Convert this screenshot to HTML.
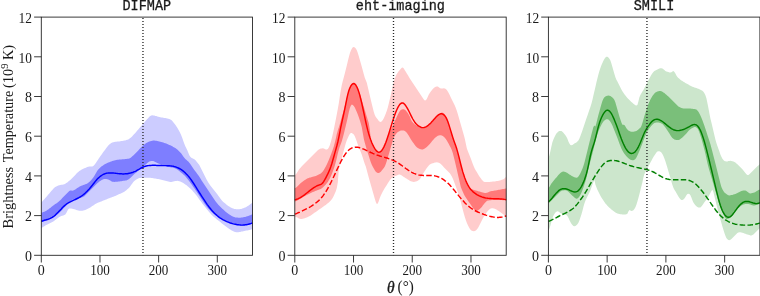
<!DOCTYPE html>
<html><head><meta charset="utf-8"><title>plot</title>
<style>
html,body{margin:0;padding:0;background:#fff;}
body{width:760px;height:296px;overflow:hidden;font-family:"Liberation Serif",serif;}
svg{display:block}
.tk{font-family:"Liberation Serif",serif;font-size:15.4px;fill:#1a1a1a}
.tt{font-family:"Liberation Mono",monospace;font-size:14.2px;fill:#1a1a1a}
</style></head><body>
<svg width="760" height="296" viewBox="0 0 760 296" style="opacity:0.999;will-change:transform">
<rect width="760" height="296" fill="#fff"/>
<g>
<path d="M41.3,202.6 L42.3,201.5 L43.3,200.3 L44.3,199.2 L45.3,198.0 L46.3,196.9 L47.3,195.7 L48.3,194.6 L49.3,193.4 L50.3,192.3 L51.3,191.1 L52.3,190.0 L53.3,188.8 L54.3,187.8 L55.3,187.0 L56.3,186.5 L57.3,186.0 L58.3,185.6 L59.3,185.3 L60.3,185.0 L61.3,184.8 L62.3,184.7 L63.3,184.6 L64.3,184.3 L65.3,183.8 L66.3,183.1 L67.3,182.4 L68.3,181.6 L69.3,180.7 L70.3,179.9 L71.3,179.0 L72.3,178.0 L73.3,177.0 L74.3,175.9 L75.3,174.9 L76.3,173.8 L77.3,172.8 L78.3,171.9 L79.3,171.1 L80.3,170.4 L81.3,169.7 L82.3,169.2 L83.3,168.7 L84.3,168.3 L85.3,167.9 L86.3,167.5 L87.3,167.1 L88.3,166.7 L89.3,166.6 L90.3,166.6 L91.3,166.6 L92.3,166.5 L93.3,166.0 L94.3,165.0 L95.3,163.8 L96.3,162.3 L97.3,160.7 L98.3,159.2 L99.3,157.7 L100.3,156.3 L101.3,154.9 L102.3,153.5 L103.3,152.1 L104.3,150.8 L105.3,149.4 L106.3,148.1 L107.3,146.8 L108.3,145.6 L109.3,144.5 L110.3,143.7 L111.3,143.0 L112.3,142.6 L113.3,142.2 L114.3,142.0 L115.3,141.8 L116.3,141.7 L117.3,141.5 L118.3,141.5 L119.3,141.4 L120.3,141.3 L121.3,141.1 L122.3,141.0 L123.3,140.8 L124.3,140.6 L125.3,140.4 L126.3,140.1 L127.3,139.8 L128.3,139.4 L129.3,138.8 L130.3,138.0 L131.3,137.2 L132.3,136.2 L133.3,135.1 L134.3,134.0 L135.3,132.9 L136.3,131.7 L137.3,130.5 L138.3,129.4 L139.3,128.2 L140.3,127.0 L141.3,125.9 L142.3,124.7 L143.3,123.6 L144.3,122.4 L145.3,121.3 L146.3,120.1 L147.3,119.0 L148.3,117.9 L149.3,116.8 L150.3,116.0 L151.3,115.5 L152.3,115.3 L153.3,115.4 L154.3,115.6 L155.3,115.9 L156.3,116.1 L157.3,116.4 L158.3,116.7 L159.3,116.9 L160.3,117.2 L161.3,117.4 L162.3,117.6 L163.3,117.8 L164.3,117.9 L165.3,118.1 L166.3,118.3 L167.3,118.5 L168.3,118.7 L169.3,118.9 L170.3,119.4 L171.3,120.1 L172.3,121.1 L173.3,122.2 L174.3,123.5 L175.3,124.8 L176.3,126.2 L177.3,127.7 L178.3,129.4 L179.3,131.2 L180.3,133.3 L181.3,135.5 L182.3,138.1 L183.3,141.0 L184.3,143.8 L185.3,146.3 L186.3,148.3 L187.3,150.3 L188.3,152.7 L189.3,155.2 L190.3,156.8 L191.3,157.8 L192.3,158.3 L193.3,158.7 L194.3,159.2 L195.3,160.1 L196.3,161.2 L197.3,162.4 L198.3,163.7 L199.3,165.1 L200.3,166.9 L201.3,168.9 L202.3,171.1 L203.3,173.1 L204.3,175.1 L205.3,177.0 L206.3,178.9 L207.3,180.7 L208.3,182.4 L209.3,184.0 L210.3,185.4 L211.3,186.7 L212.3,188.0 L213.3,189.2 L214.3,190.4 L215.3,191.7 L216.3,193.0 L217.3,194.3 L218.3,195.7 L219.3,197.1 L220.3,198.4 L221.3,199.7 L222.3,200.9 L223.3,201.9 L224.3,202.8 L225.3,203.6 L226.3,204.4 L227.3,205.2 L228.3,205.9 L229.3,206.5 L230.3,207.2 L231.3,207.7 L232.3,208.2 L233.3,208.6 L234.3,208.9 L235.3,209.1 L236.3,209.3 L237.3,209.3 L238.3,209.3 L239.3,209.2 L240.3,209.1 L241.3,208.9 L242.3,208.6 L243.3,208.3 L244.3,207.8 L245.3,207.4 L246.3,206.9 L247.3,206.3 L248.3,205.7 L249.3,205.0 L250.3,204.3 L251.3,203.6 L252.3,202.8 L252.5,202.6 L252.5,229.3 L252.3,229.3 L251.3,229.6 L250.3,229.8 L249.3,230.0 L248.3,230.2 L247.3,230.4 L246.3,230.6 L245.3,230.8 L244.3,231.0 L243.3,231.2 L242.3,231.4 L241.3,231.6 L240.3,231.9 L239.3,232.1 L238.3,232.3 L237.3,232.3 L236.3,232.3 L235.3,232.1 L234.3,231.7 L233.3,231.3 L232.3,230.8 L231.3,230.2 L230.3,229.6 L229.3,228.9 L228.3,228.2 L227.3,227.5 L226.3,226.7 L225.3,226.0 L224.3,225.2 L223.3,224.5 L222.3,223.7 L221.3,222.9 L220.3,222.1 L219.3,221.3 L218.3,220.5 L217.3,219.8 L216.3,218.9 L215.3,218.1 L214.3,217.2 L213.3,216.4 L212.3,215.4 L211.3,214.4 L210.3,213.3 L209.3,212.2 L208.3,211.0 L207.3,209.8 L206.3,208.5 L205.3,207.3 L204.3,206.0 L203.3,204.7 L202.3,203.4 L201.3,202.1 L200.3,200.7 L199.3,199.4 L198.3,198.0 L197.3,196.6 L196.3,195.3 L195.3,194.0 L194.3,192.8 L193.3,191.7 L192.3,190.6 L191.3,189.6 L190.3,188.6 L189.3,187.7 L188.3,186.8 L187.3,186.0 L186.3,185.1 L185.3,184.4 L184.3,183.7 L183.3,183.0 L182.3,182.5 L181.3,182.0 L180.3,181.6 L179.3,181.2 L178.3,181.0 L177.3,180.8 L176.3,180.9 L175.3,181.0 L174.3,181.2 L173.3,181.5 L172.3,181.7 L171.3,181.9 L170.3,181.9 L169.3,181.8 L168.3,181.6 L167.3,181.3 L166.3,181.1 L165.3,180.8 L164.3,180.5 L163.3,180.2 L162.3,179.9 L161.3,179.7 L160.3,179.5 L159.3,179.3 L158.3,179.1 L157.3,178.9 L156.3,178.7 L155.3,178.5 L154.3,178.4 L153.3,178.2 L152.3,178.1 L151.3,177.9 L150.3,177.8 L149.3,177.7 L148.3,177.7 L147.3,177.7 L146.3,177.7 L145.3,177.7 L144.3,177.7 L143.3,177.8 L142.3,177.8 L141.3,177.9 L140.3,178.0 L139.3,178.1 L138.3,178.4 L137.3,178.9 L136.3,179.5 L135.3,180.2 L134.3,181.0 L133.3,182.1 L132.3,183.4 L131.3,184.8 L130.3,186.2 L129.3,187.5 L128.3,188.5 L127.3,189.3 L126.3,190.2 L125.3,191.0 L124.3,191.7 L123.3,192.2 L122.3,192.7 L121.3,193.2 L120.3,193.7 L119.3,194.1 L118.3,194.6 L117.3,195.0 L116.3,195.4 L115.3,195.9 L114.3,196.3 L113.3,196.7 L112.3,197.0 L111.3,197.4 L110.3,197.8 L109.3,198.2 L108.3,198.6 L107.3,199.0 L106.3,199.4 L105.3,199.8 L104.3,200.2 L103.3,200.6 L102.3,201.0 L101.3,201.4 L100.3,201.8 L99.3,202.2 L98.3,202.6 L97.3,203.0 L96.3,203.4 L95.3,204.0 L94.3,204.7 L93.3,205.4 L92.3,206.1 L91.3,206.8 L90.3,207.4 L89.3,208.0 L88.3,208.5 L87.3,209.0 L86.3,209.4 L85.3,209.9 L84.3,210.2 L83.3,210.5 L82.3,210.7 L81.3,210.8 L80.3,210.8 L79.3,210.7 L78.3,210.5 L77.3,210.2 L76.3,209.9 L75.3,209.5 L74.3,209.2 L73.3,208.9 L72.3,208.7 L71.3,208.5 L70.3,208.4 L69.3,208.4 L68.3,209.2 L67.3,210.9 L66.3,212.9 L65.3,214.5 L64.3,215.1 L63.3,215.5 L62.3,215.8 L61.3,216.1 L60.3,216.5 L59.3,217.0 L58.3,217.7 L57.3,218.5 L56.3,219.3 L55.3,220.1 L54.3,220.8 L53.3,221.5 L52.3,222.0 L51.3,222.5 L50.3,222.9 L49.3,223.4 L48.3,223.9 L47.3,224.5 L46.3,225.0 L45.3,225.6 L44.3,226.2 L43.3,226.8 L42.3,227.5 L41.3,228.1Z" fill="#ccccff"/>
<path d="M41.3,212.8 L42.3,212.5 L43.3,212.1 L44.3,211.8 L45.3,211.3 L46.3,210.8 L47.3,210.1 L48.3,209.4 L49.3,208.6 L50.3,207.9 L51.3,207.1 L52.3,206.3 L53.3,205.6 L54.3,204.8 L55.3,204.1 L56.3,203.4 L57.3,202.7 L58.3,202.0 L59.3,201.1 L60.3,200.2 L61.3,199.2 L62.3,198.1 L63.3,197.1 L64.3,196.0 L65.3,195.0 L66.3,194.0 L67.3,193.0 L68.3,192.0 L69.3,191.0 L70.3,190.5 L71.3,190.5 L72.3,190.7 L73.3,190.6 L74.3,190.1 L75.3,189.4 L76.3,188.7 L77.3,188.0 L78.3,187.4 L79.3,186.8 L80.3,186.2 L81.3,185.8 L82.3,185.4 L83.3,185.0 L84.3,184.7 L85.3,184.3 L86.3,183.9 L87.3,183.4 L88.3,182.8 L89.3,182.0 L90.3,181.0 L91.3,179.9 L92.3,178.7 L93.3,177.4 L94.3,176.0 L95.3,174.3 L96.3,172.4 L97.3,170.7 L98.3,169.4 L99.3,168.4 L100.3,167.5 L101.3,166.6 L102.3,165.9 L103.3,165.2 L104.3,164.6 L105.3,164.1 L106.3,163.6 L107.3,163.1 L108.3,162.6 L109.3,162.2 L110.3,161.8 L111.3,161.4 L112.3,161.1 L113.3,160.8 L114.3,160.5 L115.3,160.2 L116.3,160.0 L117.3,159.8 L118.3,159.7 L119.3,159.6 L120.3,159.5 L121.3,159.4 L122.3,159.3 L123.3,159.3 L124.3,159.2 L125.3,159.1 L126.3,159.0 L127.3,158.8 L128.3,158.7 L129.3,158.4 L130.3,157.9 L131.3,157.2 L132.3,156.3 L133.3,155.4 L134.3,154.4 L135.3,153.4 L136.3,152.4 L137.3,151.4 L138.3,150.4 L139.3,149.3 L140.3,148.3 L141.3,147.2 L142.3,146.2 L143.3,145.3 L144.3,144.5 L145.3,143.8 L146.3,143.1 L147.3,142.5 L148.3,142.0 L149.3,141.6 L150.3,141.2 L151.3,140.9 L152.3,140.7 L153.3,140.6 L154.3,140.6 L155.3,140.7 L156.3,140.8 L157.3,141.0 L158.3,141.2 L159.3,141.4 L160.3,141.7 L161.3,141.9 L162.3,142.2 L163.3,142.6 L164.3,142.9 L165.3,143.3 L166.3,143.6 L167.3,144.0 L168.3,144.4 L169.3,144.9 L170.3,145.3 L171.3,145.8 L172.3,146.3 L173.3,146.9 L174.3,147.5 L175.3,148.1 L176.3,148.8 L177.3,149.6 L178.3,150.4 L179.3,151.4 L180.3,152.4 L181.3,153.6 L182.3,154.9 L183.3,156.4 L184.3,157.8 L185.3,158.9 L186.3,159.8 L187.3,160.7 L188.3,161.6 L189.3,162.8 L190.3,164.1 L191.3,165.6 L192.3,167.0 L193.3,168.5 L194.3,170.0 L195.3,171.3 L196.3,172.6 L197.3,173.9 L198.3,175.3 L199.3,176.8 L200.3,178.3 L201.3,179.9 L202.3,181.4 L203.3,182.9 L204.3,184.4 L205.3,185.9 L206.3,187.4 L207.3,188.9 L208.3,190.4 L209.3,191.9 L210.3,193.4 L211.3,194.9 L212.3,196.4 L213.3,197.9 L214.3,199.4 L215.3,200.9 L216.3,202.3 L217.3,203.6 L218.3,204.8 L219.3,205.8 L220.3,206.8 L221.3,207.8 L222.3,208.7 L223.3,209.6 L224.3,210.5 L225.3,211.4 L226.3,212.2 L227.3,213.0 L228.3,213.7 L229.3,214.4 L230.3,215.1 L231.3,215.7 L232.3,216.3 L233.3,216.7 L234.3,217.1 L235.3,217.4 L236.3,217.5 L237.3,217.6 L238.3,217.7 L239.3,217.7 L240.3,217.7 L241.3,217.6 L242.3,217.5 L243.3,217.3 L244.3,217.1 L245.3,216.9 L246.3,216.6 L247.3,216.3 L248.3,215.9 L249.3,215.6 L250.3,215.2 L251.3,214.8 L252.3,214.3 L252.5,214.2 L252.5,223.5 L252.3,223.6 L251.3,223.9 L250.3,224.1 L249.3,224.4 L248.3,224.6 L247.3,224.8 L246.3,224.9 L245.3,225.1 L244.3,225.2 L243.3,225.3 L242.3,225.4 L241.3,225.4 L240.3,225.3 L239.3,225.3 L238.3,225.2 L237.3,225.0 L236.3,224.8 L235.3,224.6 L234.3,224.4 L233.3,224.1 L232.3,223.8 L231.3,223.4 L230.3,223.1 L229.3,222.6 L228.3,222.2 L227.3,221.7 L226.3,221.3 L225.3,220.8 L224.3,220.2 L223.3,219.7 L222.3,219.2 L221.3,218.6 L220.3,218.0 L219.3,217.5 L218.3,216.9 L217.3,216.2 L216.3,215.6 L215.3,214.9 L214.3,214.2 L213.3,213.4 L212.3,212.5 L211.3,211.6 L210.3,210.6 L209.3,209.6 L208.3,208.4 L207.3,207.2 L206.3,205.9 L205.3,204.6 L204.3,203.2 L203.3,201.7 L202.3,200.3 L201.3,198.8 L200.3,197.3 L199.3,195.7 L198.3,194.2 L197.3,192.7 L196.3,191.2 L195.3,189.7 L194.3,188.3 L193.3,186.9 L192.3,185.5 L191.3,184.1 L190.3,182.7 L189.3,181.3 L188.3,180.0 L187.3,178.7 L186.3,177.5 L185.3,176.3 L184.3,175.3 L183.3,174.4 L182.3,173.5 L181.3,172.7 L180.3,171.9 L179.3,171.1 L178.3,170.3 L177.3,169.6 L176.3,168.9 L175.3,168.4 L174.3,168.1 L173.3,167.8 L172.3,167.6 L171.3,167.4 L170.3,167.3 L169.3,167.1 L168.3,166.9 L167.3,166.7 L166.3,166.4 L165.3,166.1 L164.3,165.8 L163.3,165.5 L162.3,165.1 L161.3,164.7 L160.3,164.3 L159.3,163.8 L158.3,163.4 L157.3,162.9 L156.3,162.4 L155.3,161.9 L154.3,161.5 L153.3,161.1 L152.3,160.9 L151.3,160.9 L150.3,161.2 L149.3,161.6 L148.3,162.3 L147.3,163.0 L146.3,163.9 L145.3,164.8 L144.3,165.7 L143.3,166.5 L142.3,167.4 L141.3,168.2 L140.3,169.1 L139.3,169.9 L138.3,170.7 L137.3,171.6 L136.3,172.4 L135.3,173.2 L134.3,174.1 L133.3,175.0 L132.3,175.9 L131.3,176.9 L130.3,177.9 L129.3,178.8 L128.3,179.5 L127.3,180.0 L126.3,180.4 L125.3,180.6 L124.3,180.7 L123.3,180.8 L122.3,181.0 L121.3,181.2 L120.3,181.3 L119.3,181.5 L118.3,181.6 L117.3,181.7 L116.3,181.8 L115.3,181.8 L114.3,181.9 L113.3,181.8 L112.3,181.7 L111.3,181.3 L110.3,180.6 L109.3,179.9 L108.3,179.5 L107.3,179.2 L106.3,179.0 L105.3,178.9 L104.3,179.0 L103.3,179.2 L102.3,179.7 L101.3,180.2 L100.3,180.9 L99.3,181.6 L98.3,182.4 L97.3,183.3 L96.3,184.3 L95.3,185.3 L94.3,186.3 L93.3,187.3 L92.3,188.3 L91.3,189.3 L90.3,190.3 L89.3,191.3 L88.3,192.3 L87.3,193.3 L86.3,194.3 L85.3,195.3 L84.3,196.2 L83.3,196.8 L82.3,197.3 L81.3,197.6 L80.3,198.0 L79.3,198.3 L78.3,198.7 L77.3,198.9 L76.3,199.0 L75.3,199.2 L74.3,199.3 L73.3,199.6 L72.3,200.0 L71.3,200.7 L70.3,201.6 L69.3,202.5 L68.3,203.5 L67.3,204.6 L66.3,205.6 L65.3,206.6 L64.3,207.6 L63.3,208.6 L62.3,209.7 L61.3,210.7 L60.3,211.7 L59.3,212.7 L58.3,213.7 L57.3,214.5 L56.3,215.3 L55.3,215.9 L54.3,216.6 L53.3,217.2 L52.3,217.7 L51.3,218.3 L50.3,218.8 L49.3,219.3 L48.3,219.7 L47.3,220.1 L46.3,220.5 L45.3,220.9 L44.3,221.3 L43.3,221.7 L42.3,222.0 L41.3,222.3Z" fill="#7e7eff"/>
<path d="M41.3,221.3 L42.3,221.0 L43.3,220.6 L44.3,220.3 L45.3,220.0 L46.3,219.8 L47.3,219.5 L48.3,219.2 L49.3,218.8 L50.3,218.4 L51.3,217.9 L52.3,217.4 L53.3,216.7 L54.3,216.0 L55.3,215.1 L56.3,214.1 L57.3,213.1 L58.3,212.1 L59.3,211.0 L60.3,209.9 L61.3,208.9 L62.3,207.8 L63.3,206.8 L64.3,205.9 L65.3,205.0 L66.3,204.2 L67.3,203.5 L68.3,202.9 L69.3,202.3 L70.3,201.8 L71.3,201.3 L72.3,200.8 L73.3,200.4 L74.3,199.9 L75.3,199.5 L76.3,199.0 L77.3,198.5 L78.3,198.0 L79.3,197.4 L80.3,196.8 L81.3,196.2 L82.3,195.5 L83.3,194.7 L84.3,193.9 L85.3,193.0 L86.3,192.0 L87.3,191.1 L88.3,190.0 L89.3,188.9 L90.3,187.7 L91.3,186.5 L92.3,185.3 L93.3,184.0 L94.3,182.7 L95.3,181.4 L96.3,180.2 L97.3,179.1 L98.3,178.1 L99.3,177.2 L100.3,176.3 L101.3,175.6 L102.3,175.0 L103.3,174.4 L104.3,174.0 L105.3,173.6 L106.3,173.3 L107.3,173.1 L108.3,173.0 L109.3,172.9 L110.3,172.9 L111.3,172.9 L112.3,173.0 L113.3,173.0 L114.3,173.1 L115.3,173.2 L116.3,173.4 L117.3,173.5 L118.3,173.6 L119.3,173.7 L120.3,173.7 L121.3,173.8 L122.3,173.9 L123.3,173.9 L124.3,173.9 L125.3,173.8 L126.3,173.8 L127.3,173.7 L128.3,173.5 L129.3,173.3 L130.3,173.1 L131.3,172.8 L132.3,172.5 L133.3,172.2 L134.3,171.7 L135.3,171.3 L136.3,170.8 L137.3,170.2 L138.3,169.6 L139.3,169.1 L140.3,168.5 L141.3,168.0 L142.3,167.5 L143.3,167.0 L144.3,166.6 L145.3,166.3 L146.3,166.0 L147.3,165.8 L148.3,165.6 L149.3,165.5 L150.3,165.4 L151.3,165.4 L152.3,165.3 L153.3,165.3 L154.3,165.3 L155.3,165.3 L156.3,165.4 L157.3,165.4 L158.3,165.4 L159.3,165.5 L160.3,165.5 L161.3,165.5 L162.3,165.6 L163.3,165.6 L164.3,165.6 L165.3,165.6 L166.3,165.6 L167.3,165.7 L168.3,165.7 L169.3,165.8 L170.3,165.9 L171.3,166.0 L172.3,166.1 L173.3,166.3 L174.3,166.6 L175.3,166.8 L176.3,167.2 L177.3,167.6 L178.3,168.0 L179.3,168.5 L180.3,169.0 L181.3,169.7 L182.3,170.4 L183.3,171.1 L184.3,172.0 L185.3,172.9 L186.3,173.9 L187.3,174.9 L188.3,176.1 L189.3,177.3 L190.3,178.6 L191.3,180.0 L192.3,181.5 L193.3,183.0 L194.3,184.5 L195.3,186.1 L196.3,187.7 L197.3,189.3 L198.3,190.9 L199.3,192.5 L200.3,194.0 L201.3,195.6 L202.3,197.2 L203.3,198.7 L204.3,200.2 L205.3,201.7 L206.3,203.2 L207.3,204.6 L208.3,205.9 L209.3,207.3 L210.3,208.5 L211.3,209.8 L212.3,210.9 L213.3,212.0 L214.3,213.1 L215.3,214.0 L216.3,214.9 L217.3,215.8 L218.3,216.6 L219.3,217.4 L220.3,218.1 L221.3,218.7 L222.3,219.3 L223.3,219.9 L224.3,220.4 L225.3,220.9 L226.3,221.4 L227.3,221.8 L228.3,222.2 L229.3,222.6 L230.3,223.0 L231.3,223.3 L232.3,223.6 L233.3,223.9 L234.3,224.1 L235.3,224.3 L236.3,224.5 L237.3,224.7 L238.3,224.8 L239.3,224.9 L240.3,225.0 L241.3,225.1 L242.3,225.1 L243.3,225.0 L244.3,225.0 L245.3,224.8 L246.3,224.7 L247.3,224.5 L248.3,224.3 L249.3,224.0 L250.3,223.7 L251.3,223.4 L252.3,223.0 L252.5,222.9" fill="none" stroke="#0000ff" stroke-width="1.45" stroke-linejoin="round"/>
<path d="M142.97,17.95 V255.3" stroke="#262626" stroke-width="1.35" stroke-dasharray="1.1 1.9" fill="none"/>
<rect x="41.3" y="17.1" width="211.2" height="238.2" fill="none" stroke="#262626" stroke-width="0.9"/>
<path d="M41.30,255.3 v7.2 M99.97,255.3 v7.2 M158.63,255.3 v7.2 M217.30,255.3 v7.2 M41.3,255.30 h-7.2 M41.3,215.60 h-7.2 M41.3,175.90 h-7.2 M41.3,136.20 h-7.2 M41.3,96.50 h-7.2 M41.3,56.80 h-7.2 M41.3,17.10 h-7.2" stroke="#262626" stroke-width="0.9" fill="none"/>
<text class="tk" x="41.3" y="275.1" text-anchor="middle" textLength="7.0" lengthAdjust="spacingAndGlyphs">0</text>
<text class="tk" x="100.0" y="275.1" text-anchor="middle" textLength="19.6" lengthAdjust="spacingAndGlyphs">100</text>
<text class="tk" x="158.6" y="275.1" text-anchor="middle" textLength="19.6" lengthAdjust="spacingAndGlyphs">200</text>
<text class="tk" x="217.3" y="275.1" text-anchor="middle" textLength="19.6" lengthAdjust="spacingAndGlyphs">300</text>
<text class="tk" x="32.0" y="261.1" text-anchor="end" textLength="7.0" lengthAdjust="spacingAndGlyphs">0</text>
<text class="tk" x="32.0" y="221.4" text-anchor="end" textLength="7.0" lengthAdjust="spacingAndGlyphs">2</text>
<text class="tk" x="32.0" y="181.7" text-anchor="end" textLength="7.0" lengthAdjust="spacingAndGlyphs">4</text>
<text class="tk" x="32.0" y="142.0" text-anchor="end" textLength="7.0" lengthAdjust="spacingAndGlyphs">6</text>
<text class="tk" x="32.0" y="102.3" text-anchor="end" textLength="7.0" lengthAdjust="spacingAndGlyphs">8</text>
<text class="tk" x="32.0" y="62.6" text-anchor="end" textLength="13.4" lengthAdjust="spacingAndGlyphs">10</text>
<text class="tk" x="32.0" y="22.9" text-anchor="end" textLength="13.4" lengthAdjust="spacingAndGlyphs">12</text>
<text class="tt" x="146.8" y="10.15" stroke="#1a1a1a" stroke-width="0.3" text-anchor="middle" textLength="48.6" lengthAdjust="spacingAndGlyphs">DIFMAP</text>
</g>
<g>
<path d="M294.8,175.2 L295.8,174.5 L296.8,173.0 L297.8,171.4 L298.8,169.8 L299.8,168.5 L300.8,167.4 L301.8,166.3 L302.8,165.3 L303.8,164.2 L304.8,163.2 L305.8,162.2 L306.8,161.2 L307.8,160.2 L308.8,159.2 L309.8,158.2 L310.8,157.2 L311.8,156.2 L312.8,155.2 L313.8,154.2 L314.8,153.2 L315.8,152.2 L316.8,151.2 L317.8,150.2 L318.8,149.4 L319.8,148.9 L320.8,148.6 L321.8,148.4 L322.8,148.3 L323.8,148.5 L324.8,149.1 L325.8,149.6 L326.8,149.6 L327.8,149.0 L328.8,147.6 L329.8,145.3 L330.8,142.1 L331.8,138.3 L332.8,133.9 L333.8,129.4 L334.8,124.5 L335.8,119.5 L336.8,114.3 L337.8,109.1 L338.8,103.3 L339.8,96.6 L340.8,90.2 L341.8,85.0 L342.8,81.0 L343.8,77.2 L344.8,73.4 L345.8,69.4 L346.8,65.4 L347.8,61.3 L348.8,57.3 L349.8,53.5 L350.8,50.7 L351.8,48.7 L352.8,47.3 L353.8,47.0 L354.8,47.6 L355.8,48.6 L356.8,50.3 L357.8,53.0 L358.8,56.3 L359.8,59.7 L360.8,63.2 L361.8,66.8 L362.8,70.5 L363.8,74.2 L364.8,77.8 L365.8,80.2 L366.8,82.7 L367.8,86.9 L368.8,91.2 L369.8,95.4 L370.8,99.7 L371.8,103.9 L372.8,108.0 L373.8,112.0 L374.8,114.9 L375.8,116.9 L376.8,118.3 L377.8,119.6 L378.8,120.9 L379.8,121.8 L380.8,122.0 L381.8,121.3 L382.8,120.0 L383.8,118.2 L384.8,116.0 L385.8,113.6 L386.8,110.8 L387.8,107.4 L388.8,103.5 L389.8,99.2 L390.8,94.9 L391.8,90.4 L392.8,85.7 L393.8,81.4 L394.8,78.2 L395.8,75.9 L396.8,74.0 L397.8,72.4 L398.8,71.0 L399.8,69.9 L400.8,68.8 L401.8,67.8 L402.8,67.6 L403.8,68.6 L404.8,70.2 L405.8,71.8 L406.8,73.4 L407.8,75.1 L408.8,76.8 L409.8,78.4 L410.8,80.1 L411.8,81.6 L412.8,83.1 L413.8,84.6 L414.8,86.1 L415.8,87.6 L416.8,89.1 L417.8,90.6 L418.8,92.1 L419.8,93.6 L420.8,95.1 L421.8,96.6 L422.8,98.1 L423.8,99.5 L424.8,100.4 L425.8,100.3 L426.8,99.0 L427.8,96.8 L428.8,94.6 L429.8,93.1 L430.8,91.6 L431.8,90.3 L432.8,89.0 L433.8,88.0 L434.8,87.2 L435.8,86.7 L436.8,86.5 L437.8,86.6 L438.8,87.2 L439.8,88.1 L440.8,88.6 L441.8,88.6 L442.8,88.4 L443.8,88.3 L444.8,88.5 L445.8,89.0 L446.8,89.9 L447.8,91.4 L448.8,93.3 L449.8,95.3 L450.8,97.4 L451.8,99.5 L452.8,101.5 L453.8,103.5 L454.8,105.6 L455.8,107.9 L456.8,110.7 L457.8,113.9 L458.8,117.4 L459.8,121.0 L460.8,124.5 L461.8,128.0 L462.8,131.5 L463.8,135.1 L464.8,138.8 L465.8,143.6 L466.8,148.2 L467.8,151.1 L468.8,153.6 L469.8,156.0 L470.8,158.5 L471.8,161.2 L472.8,163.9 L473.8,166.5 L474.8,168.7 L475.8,170.5 L476.8,172.1 L477.8,173.8 L478.8,175.4 L479.8,176.9 L480.8,178.3 L481.8,179.7 L482.8,180.8 L483.8,181.7 L484.8,182.0 L485.8,182.1 L486.8,182.1 L487.8,182.1 L488.8,182.0 L489.8,181.9 L490.8,181.8 L491.8,181.7 L492.8,181.6 L493.8,181.5 L494.8,181.4 L495.8,181.2 L496.8,181.1 L497.8,180.9 L498.8,180.7 L499.8,180.5 L500.8,180.2 L501.8,179.8 L502.8,179.4 L503.8,179.0 L504.8,178.2 L505.8,177.0 L506.2,176.5 L506.2,216.9 L505.8,216.5 L504.8,215.7 L503.8,214.8 L502.8,214.0 L501.8,213.3 L500.8,212.6 L499.8,211.8 L498.8,211.1 L497.8,210.4 L496.8,209.8 L495.8,209.2 L494.8,208.8 L493.8,208.4 L492.8,208.2 L491.8,208.2 L490.8,208.5 L489.8,209.1 L488.8,210.0 L487.8,211.1 L486.8,212.3 L485.8,213.7 L484.8,215.1 L483.8,216.7 L482.8,218.5 L481.8,220.4 L480.8,222.5 L479.8,224.6 L478.8,226.5 L477.8,228.2 L476.8,229.5 L475.8,230.4 L474.8,230.9 L473.8,231.2 L472.8,231.1 L471.8,230.7 L470.8,230.0 L469.8,228.8 L468.8,227.1 L467.8,225.0 L466.8,222.7 L465.8,220.0 L464.8,216.9 L463.8,213.4 L462.8,209.7 L461.8,205.9 L460.8,201.8 L459.8,198.0 L458.8,194.9 L457.8,192.0 L456.8,189.2 L455.8,186.4 L454.8,183.7 L453.8,181.0 L452.8,178.6 L451.8,176.5 L450.8,174.7 L449.8,173.3 L448.8,172.2 L447.8,171.2 L446.8,170.3 L445.8,169.3 L444.8,168.3 L443.8,167.2 L442.8,166.0 L441.8,164.9 L440.8,163.9 L439.8,163.2 L438.8,162.7 L437.8,162.4 L436.8,162.3 L435.8,162.4 L434.8,162.6 L433.8,162.9 L432.8,163.3 L431.8,163.6 L430.8,164.0 L429.8,164.6 L428.8,165.5 L427.8,166.7 L426.8,168.1 L425.8,169.6 L424.8,171.0 L423.8,172.6 L422.8,174.1 L421.8,175.9 L420.8,177.7 L419.8,179.2 L418.8,180.1 L417.8,180.8 L416.8,181.3 L415.8,181.6 L414.8,181.8 L413.8,181.9 L412.8,181.8 L411.8,181.6 L410.8,181.3 L409.8,180.7 L408.8,180.1 L407.8,179.4 L406.8,178.8 L405.8,178.2 L404.8,177.5 L403.8,176.9 L402.8,176.2 L401.8,175.6 L400.8,175.0 L399.8,174.5 L398.8,174.6 L397.8,175.1 L396.8,175.5 L395.8,175.8 L394.8,176.2 L393.8,176.7 L392.8,177.3 L391.8,178.0 L390.8,179.0 L389.8,180.3 L388.8,181.7 L387.8,183.3 L386.8,184.9 L385.8,186.5 L384.8,188.1 L383.8,189.8 L382.8,191.6 L381.8,193.4 L380.8,195.5 L379.8,198.1 L378.8,201.0 L377.8,203.5 L376.8,203.9 L375.8,201.9 L374.8,198.7 L373.8,195.2 L372.8,191.7 L371.8,188.2 L370.8,184.7 L369.8,181.2 L368.8,177.7 L367.8,174.0 L366.8,170.2 L365.8,166.5 L364.8,163.9 L363.8,161.0 L362.8,157.7 L361.8,154.7 L360.8,152.0 L359.8,149.7 L358.8,147.3 L357.8,144.6 L356.8,141.6 L355.8,138.7 L354.8,136.2 L353.8,134.6 L352.8,133.7 L351.8,133.1 L350.8,133.1 L349.8,134.1 L348.8,135.8 L347.8,137.9 L346.8,140.3 L345.8,143.2 L344.8,146.7 L343.8,150.4 L342.8,154.1 L341.8,157.9 L340.8,161.7 L339.8,165.2 L338.8,169.6 L337.8,182.4 L336.8,188.1 L335.8,191.2 L334.8,193.6 L333.8,195.8 L332.8,197.8 L331.8,199.2 L330.8,200.4 L329.8,201.5 L328.8,202.5 L327.8,203.3 L326.8,204.1 L325.8,204.9 L324.8,205.6 L323.8,206.3 L322.8,207.0 L321.8,207.7 L320.8,208.4 L319.8,209.1 L318.8,209.8 L317.8,210.5 L316.8,211.2 L315.8,211.9 L314.8,212.6 L313.8,213.3 L312.8,214.0 L311.8,214.7 L310.8,215.4 L309.8,215.9 L308.8,216.5 L307.8,216.9 L306.8,217.4 L305.8,217.8 L304.8,218.2 L303.8,218.5 L302.8,218.8 L301.8,218.9 L300.8,218.9 L299.8,218.7 L298.8,218.4 L297.8,217.8 L296.8,217.3 L295.8,216.9 L294.8,216.7Z" fill="#ffcccc"/>
<path d="M294.8,188.2 L295.8,187.7 L296.8,186.9 L297.8,185.9 L298.8,184.9 L299.8,183.9 L300.8,183.0 L301.8,182.3 L302.8,181.5 L303.8,180.7 L304.8,180.0 L305.8,179.4 L306.8,178.8 L307.8,178.3 L308.8,178.0 L309.8,177.6 L310.8,177.4 L311.8,177.1 L312.8,176.8 L313.8,176.6 L314.8,176.2 L315.8,175.9 L316.8,175.5 L317.8,175.0 L318.8,174.5 L319.8,174.0 L320.8,173.4 L321.8,172.6 L322.8,171.4 L323.8,169.9 L324.8,168.3 L325.8,166.4 L326.8,164.4 L327.8,162.2 L328.8,159.9 L329.8,157.5 L330.8,155.0 L331.8,152.3 L332.8,149.5 L333.8,146.4 L334.8,142.7 L335.8,138.7 L336.8,134.1 L337.8,130.4 L338.8,127.6 L339.8,124.2 L340.8,120.5 L341.8,116.9 L342.8,113.5 L343.8,110.0 L344.8,106.1 L345.8,101.9 L346.8,97.8 L347.8,94.1 L348.8,90.7 L349.8,87.8 L350.8,85.8 L351.8,84.4 L352.8,83.7 L353.8,83.6 L354.8,84.0 L355.8,84.8 L356.8,86.3 L357.8,88.5 L358.8,91.0 L359.8,93.8 L360.8,96.9 L361.8,100.2 L362.8,103.5 L363.8,106.8 L364.8,110.1 L365.8,113.4 L366.8,116.7 L367.8,120.0 L368.8,123.3 L369.8,129.7 L370.8,138.9 L371.8,142.8 L372.8,145.4 L373.8,147.5 L374.8,149.1 L375.8,150.2 L376.8,151.3 L377.8,152.0 L378.8,152.1 L379.8,151.8 L380.8,151.2 L381.8,150.2 L382.8,148.8 L383.8,147.0 L384.8,145.0 L385.8,142.7 L386.8,139.8 L387.8,136.8 L388.8,133.8 L389.8,131.2 L390.8,129.3 L391.8,127.7 L392.8,125.8 L393.8,123.5 L394.8,121.1 L395.8,118.9 L396.8,116.7 L397.8,114.7 L398.8,112.8 L399.8,111.1 L400.8,110.0 L401.8,109.4 L402.8,109.2 L403.8,109.3 L404.8,109.8 L405.8,110.5 L406.8,111.7 L407.8,113.1 L408.8,114.7 L409.8,116.6 L410.8,119.2 L411.8,121.2 L412.8,122.6 L413.8,123.6 L414.8,124.4 L415.8,125.1 L416.8,125.7 L417.8,126.1 L418.8,126.5 L419.8,126.7 L420.8,126.9 L421.8,127.1 L422.8,127.2 L423.8,127.2 L424.8,127.2 L425.8,127.1 L426.8,126.6 L427.8,125.8 L428.8,124.9 L429.8,123.8 L430.8,122.8 L431.8,121.7 L432.8,120.6 L433.8,119.5 L434.8,118.4 L435.8,117.2 L436.8,116.2 L437.8,115.3 L438.8,114.4 L439.8,113.7 L440.8,113.0 L441.8,112.6 L442.8,112.7 L443.8,113.3 L444.8,114.5 L445.8,116.2 L446.8,118.4 L447.8,121.2 L448.8,124.2 L449.8,127.3 L450.8,130.5 L451.8,133.7 L452.8,137.0 L453.8,140.2 L454.8,143.2 L455.8,146.1 L456.8,149.2 L457.8,152.5 L458.8,156.1 L459.8,160.0 L460.8,163.9 L461.8,167.8 L462.8,171.8 L463.8,175.5 L464.8,178.2 L465.8,180.4 L466.8,182.7 L467.8,184.8 L468.8,186.6 L469.8,187.9 L470.8,188.7 L471.8,189.2 L472.8,189.6 L473.8,189.9 L474.8,190.2 L475.8,190.5 L476.8,190.8 L477.8,191.1 L478.8,191.4 L479.8,191.6 L480.8,191.9 L481.8,192.2 L482.8,192.5 L483.8,192.7 L484.8,192.9 L485.8,192.9 L486.8,192.7 L487.8,192.4 L488.8,192.0 L489.8,191.6 L490.8,191.3 L491.8,191.1 L492.8,191.0 L493.8,190.8 L494.8,190.6 L495.8,190.4 L496.8,190.2 L497.8,190.0 L498.8,189.8 L499.8,189.7 L500.8,189.5 L501.8,189.3 L502.8,189.1 L503.8,188.9 L504.8,188.8 L505.8,188.6 L506.2,188.5 L506.2,200.4 L505.8,200.4 L504.8,200.3 L503.8,200.2 L502.8,200.2 L501.8,200.1 L500.8,200.1 L499.8,200.1 L498.8,200.0 L497.8,200.0 L496.8,200.0 L495.8,200.0 L494.8,200.0 L493.8,200.0 L492.8,200.1 L491.8,200.1 L490.8,200.2 L489.8,200.3 L488.8,200.4 L487.8,200.5 L486.8,201.0 L485.8,201.9 L484.8,203.1 L483.8,204.3 L482.8,205.6 L481.8,206.9 L480.8,208.0 L479.8,208.9 L478.8,209.8 L477.8,210.5 L476.8,210.8 L475.8,210.6 L474.8,210.0 L473.8,209.0 L472.8,207.7 L471.8,206.3 L470.8,204.8 L469.8,203.3 L468.8,201.9 L467.8,200.5 L466.8,199.0 L465.8,197.6 L464.8,195.9 L463.8,193.9 L462.8,191.7 L461.8,189.6 L460.8,186.9 L459.8,182.8 L458.8,178.3 L457.8,173.9 L456.8,169.5 L455.8,165.2 L454.8,161.1 L453.8,156.9 L452.8,153.0 L451.8,150.0 L450.8,147.8 L449.8,145.9 L448.8,144.1 L447.8,142.3 L446.8,140.5 L445.8,138.9 L444.8,137.8 L443.8,136.8 L442.8,136.1 L441.8,135.5 L440.8,135.2 L439.8,135.2 L438.8,135.4 L437.8,135.8 L436.8,136.4 L435.8,137.2 L434.8,138.1 L433.8,139.2 L432.8,140.3 L431.8,141.6 L430.8,142.8 L429.8,143.9 L428.8,145.0 L427.8,146.0 L426.8,146.9 L425.8,147.7 L424.8,148.5 L423.8,149.0 L422.8,149.4 L421.8,149.4 L420.8,149.3 L419.8,149.0 L418.8,148.6 L417.8,148.0 L416.8,147.2 L415.8,146.2 L414.8,145.0 L413.8,143.6 L412.8,142.2 L411.8,140.8 L410.8,139.3 L409.8,137.6 L408.8,135.8 L407.8,134.2 L406.8,132.8 L405.8,131.7 L404.8,131.0 L403.8,130.6 L402.8,130.4 L401.8,130.4 L400.8,130.6 L399.8,130.9 L398.8,131.4 L397.8,132.1 L396.8,133.1 L395.8,134.3 L394.8,135.8 L393.8,137.8 L392.8,140.6 L391.8,143.9 L390.8,147.3 L389.8,150.8 L388.8,154.2 L387.8,157.5 L386.8,160.9 L385.8,164.0 L384.8,166.5 L383.8,168.1 L382.8,169.3 L381.8,170.5 L380.8,171.7 L379.8,172.6 L378.8,173.0 L377.8,173.0 L376.8,172.6 L375.8,171.7 L374.8,170.2 L373.8,168.5 L372.8,166.7 L371.8,164.7 L370.8,162.2 L369.8,159.2 L368.8,156.1 L367.8,152.9 L366.8,149.7 L365.8,146.3 L364.8,142.7 L363.8,138.7 L362.8,133.0 L361.8,127.3 L360.8,123.5 L359.8,120.2 L358.8,117.2 L357.8,114.5 L356.8,112.0 L355.8,109.7 L354.8,107.5 L353.8,105.9 L352.8,104.9 L351.8,104.6 L350.8,105.7 L349.8,108.3 L348.8,112.2 L347.8,116.9 L346.8,121.5 L345.8,125.7 L344.8,129.8 L343.8,133.9 L342.8,137.8 L341.8,141.3 L340.8,144.1 L339.8,146.6 L338.8,149.7 L337.8,153.6 L336.8,157.9 L335.8,162.0 L334.8,165.7 L333.8,168.8 L332.8,171.6 L331.8,174.1 L330.8,176.4 L329.8,178.4 L328.8,180.3 L327.8,181.9 L326.8,183.3 L325.8,184.5 L324.8,185.6 L323.8,186.6 L322.8,187.5 L321.8,188.3 L320.8,188.9 L319.8,189.3 L318.8,189.7 L317.8,190.1 L316.8,190.5 L315.8,190.8 L314.8,191.2 L313.8,191.7 L312.8,192.1 L311.8,192.6 L310.8,193.1 L309.8,193.6 L308.8,194.1 L307.8,194.6 L306.8,195.1 L305.8,195.6 L304.8,196.1 L303.8,196.7 L302.8,197.3 L301.8,197.9 L300.8,198.5 L299.8,199.1 L298.8,199.7 L297.8,200.2 L296.8,200.7 L295.8,201.2 L294.8,201.5Z" fill="#ff7a7a"/>
<path d="M294.8,199.7 L295.8,199.5 L296.8,199.2 L297.8,198.9 L298.8,198.4 L299.8,197.9 L300.8,197.3 L301.8,196.7 L302.8,196.0 L303.8,195.3 L304.8,194.6 L305.8,193.8 L306.8,193.0 L307.8,192.2 L308.8,191.4 L309.8,190.6 L310.8,189.8 L311.8,189.1 L312.8,188.4 L313.8,187.7 L314.8,187.1 L315.8,186.5 L316.8,185.9 L317.8,185.5 L318.8,185.1 L319.8,184.8 L320.8,184.4 L321.8,183.8 L322.8,182.9 L323.8,181.4 L324.8,179.7 L325.8,177.8 L326.8,175.9 L327.8,173.9 L328.8,171.7 L329.8,169.4 L330.8,166.7 L331.8,163.7 L332.8,160.3 L333.8,156.7 L334.8,153.1 L335.8,149.6 L336.8,146.0 L337.8,142.0 L338.8,137.4 L339.8,132.3 L340.8,127.2 L341.8,122.5 L342.8,118.0 L343.8,113.5 L344.8,108.8 L345.8,103.8 L346.8,98.9 L347.8,94.4 L348.8,90.8 L349.8,88.1 L350.8,86.0 L351.8,84.6 L352.8,83.7 L353.8,83.5 L354.8,84.0 L355.8,85.1 L356.8,86.8 L357.8,89.1 L358.8,91.9 L359.8,95.3 L360.8,99.2 L361.8,103.4 L362.8,108.0 L363.8,112.7 L364.8,117.4 L365.8,122.0 L366.8,126.4 L367.8,130.4 L368.8,134.0 L369.8,137.2 L370.8,140.1 L371.8,142.7 L372.8,144.9 L373.8,146.9 L374.8,148.6 L375.8,150.0 L376.8,151.2 L377.8,151.9 L378.8,152.2 L379.8,152.1 L380.8,151.4 L381.8,150.4 L382.8,148.9 L383.8,147.1 L384.8,144.9 L385.8,142.5 L386.8,139.7 L387.8,136.8 L388.8,133.7 L389.8,130.4 L390.8,127.2 L391.8,123.9 L392.8,120.8 L393.8,117.7 L394.8,114.8 L395.8,112.1 L396.8,109.7 L397.8,107.6 L398.8,105.8 L399.8,104.4 L400.8,103.5 L401.8,103.0 L402.8,103.0 L403.8,103.5 L404.8,104.5 L405.8,105.8 L406.8,107.3 L407.8,109.1 L408.8,111.0 L409.8,113.0 L410.8,115.1 L411.8,117.1 L412.8,119.0 L413.8,120.7 L414.8,122.2 L415.8,123.5 L416.8,124.5 L417.8,125.4 L418.8,126.2 L419.8,126.7 L420.8,127.2 L421.8,127.5 L422.8,127.6 L423.8,127.6 L424.8,127.3 L425.8,126.9 L426.8,126.3 L427.8,125.7 L428.8,124.8 L429.8,123.9 L430.8,122.9 L431.8,121.8 L432.8,120.7 L433.8,119.5 L434.8,118.4 L435.8,117.3 L436.8,116.3 L437.8,115.4 L438.8,114.7 L439.8,114.1 L440.8,113.8 L441.8,113.8 L442.8,114.1 L443.8,114.8 L444.8,115.8 L445.8,117.2 L446.8,119.1 L447.8,121.5 L448.8,124.4 L449.8,127.6 L450.8,130.9 L451.8,134.3 L452.8,137.5 L453.8,140.5 L454.8,143.3 L455.8,146.1 L456.8,149.1 L457.8,152.6 L458.8,156.4 L459.8,160.4 L460.8,164.5 L461.8,168.3 L462.8,171.9 L463.8,175.1 L464.8,178.0 L465.8,180.6 L466.8,182.9 L467.8,184.9 L468.8,186.7 L469.8,188.2 L470.8,189.5 L471.8,190.6 L472.8,191.6 L473.8,192.4 L474.8,193.2 L475.8,193.9 L476.8,194.6 L477.8,195.1 L478.8,195.7 L479.8,196.1 L480.8,196.5 L481.8,196.9 L482.8,197.2 L483.8,197.5 L484.8,197.8 L485.8,198.0 L486.8,198.1 L487.8,198.3 L488.8,198.4 L489.8,198.5 L490.8,198.5 L491.8,198.6 L492.8,198.6 L493.8,198.7 L494.8,198.7 L495.8,198.7 L496.8,198.8 L497.8,198.8 L498.8,198.8 L499.8,198.9 L500.8,198.9 L501.8,199.0 L502.8,199.1 L503.8,199.3 L504.8,199.4 L505.8,199.6 L506.2,199.7" fill="none" stroke="#ff0000" stroke-width="1.45" stroke-linejoin="round"/>
<path d="M294.8,214.2 L295.8,213.8 L296.8,213.4 L297.8,212.9 L298.8,212.5 L299.8,212.1 L300.8,211.6 L301.8,211.2 L302.8,210.7 L303.8,210.2 L304.8,209.7 L305.8,209.2 L306.8,208.7 L307.8,208.2 L308.8,207.6 L309.8,207.1 L310.8,206.5 L311.8,205.8 L312.8,205.2 L313.8,204.5 L314.8,203.8 L315.8,203.0 L316.8,202.2 L317.8,201.4 L318.8,200.5 L319.8,199.5 L320.8,198.4 L321.8,197.3 L322.8,196.1 L323.8,194.7 L324.8,193.3 L325.8,191.8 L326.8,190.1 L327.8,188.4 L328.8,186.6 L329.8,184.7 L330.8,182.7 L331.8,180.7 L332.8,178.6 L333.8,176.5 L334.8,174.4 L335.8,172.3 L336.8,170.1 L337.8,168.0 L338.8,165.9 L339.8,163.8 L340.8,161.8 L341.8,159.9 L342.8,158.1 L343.8,156.4 L344.8,154.8 L345.8,153.4 L346.8,152.1 L347.8,151.0 L348.8,150.0 L349.8,149.2 L350.8,148.6 L351.8,148.0 L352.8,147.6 L353.8,147.4 L354.8,147.2 L355.8,147.1 L356.8,147.2 L357.8,147.3 L358.8,147.5 L359.8,147.7 L360.8,148.0 L361.8,148.4 L362.8,148.8 L363.8,149.2 L364.8,149.6 L365.8,150.1 L366.8,150.6 L367.8,151.0 L368.8,151.5 L369.8,152.0 L370.8,152.5 L371.8,152.9 L372.8,153.4 L373.8,153.8 L374.8,154.2 L375.8,154.6 L376.8,155.0 L377.8,155.3 L378.8,155.6 L379.8,156.0 L380.8,156.3 L381.8,156.5 L382.8,156.8 L383.8,157.1 L384.8,157.4 L385.8,157.7 L386.8,158.0 L387.8,158.3 L388.8,158.7 L389.8,159.0 L390.8,159.4 L391.8,159.8 L392.8,160.2 L393.8,160.7 L394.8,161.2 L395.8,161.7 L396.8,162.2 L397.8,162.8 L398.8,163.4 L399.8,164.1 L400.8,164.8 L401.8,165.5 L402.8,166.3 L403.8,167.0 L404.8,167.7 L405.8,168.5 L406.8,169.2 L407.8,169.9 L408.8,170.5 L409.8,171.1 L410.8,171.7 L411.8,172.3 L412.8,172.8 L413.8,173.3 L414.8,173.7 L415.8,174.1 L416.8,174.5 L417.8,174.7 L418.8,175.0 L419.8,175.1 L420.8,175.3 L421.8,175.3 L422.8,175.4 L423.8,175.4 L424.8,175.4 L425.8,175.4 L426.8,175.4 L427.8,175.4 L428.8,175.4 L429.8,175.4 L430.8,175.4 L431.8,175.5 L432.8,175.6 L433.8,175.8 L434.8,175.9 L435.8,176.1 L436.8,176.4 L437.8,176.7 L438.8,177.1 L439.8,177.5 L440.8,178.0 L441.8,178.5 L442.8,179.1 L443.8,179.8 L444.8,180.6 L445.8,181.3 L446.8,182.2 L447.8,183.1 L448.8,184.1 L449.8,185.1 L450.8,186.2 L451.8,187.3 L452.8,188.5 L453.8,189.7 L454.8,190.9 L455.8,192.2 L456.8,193.4 L457.8,194.6 L458.8,195.9 L459.8,197.1 L460.8,198.3 L461.8,199.4 L462.8,200.5 L463.8,201.6 L464.8,202.7 L465.8,203.7 L466.8,204.6 L467.8,205.5 L468.8,206.4 L469.8,207.2 L470.8,208.0 L471.8,208.7 L472.8,209.3 L473.8,210.0 L474.8,210.5 L475.8,211.0 L476.8,211.5 L477.8,212.0 L478.8,212.4 L479.8,212.9 L480.8,213.3 L481.8,213.6 L482.8,214.0 L483.8,214.4 L484.8,214.7 L485.8,215.1 L486.8,215.4 L487.8,215.7 L488.8,216.0 L489.8,216.3 L490.8,216.5 L491.8,216.7 L492.8,216.9 L493.8,217.1 L494.8,217.2 L495.8,217.3 L496.8,217.4 L497.8,217.4 L498.8,217.4 L499.8,217.3 L500.8,217.2 L501.8,217.1 L502.8,216.9 L503.8,216.7 L504.8,216.4 L505.8,216.0 L506.2,215.9" fill="none" stroke="#ff0000" stroke-width="1.45" stroke-dasharray="5.5 2.3" stroke-linejoin="round"/>
<path d="M393.50,17.95 V255.3" stroke="#262626" stroke-width="1.35" stroke-dasharray="1.1 1.9" fill="none"/>
<rect x="294.8" y="17.1" width="211.4" height="238.2" fill="none" stroke="#262626" stroke-width="0.9"/>
<path d="M294.80,255.3 v7.2 M353.52,255.3 v7.2 M412.24,255.3 v7.2 M470.97,255.3 v7.2 M294.8,255.30 h-7.2 M294.8,215.60 h-7.2 M294.8,175.90 h-7.2 M294.8,136.20 h-7.2 M294.8,96.50 h-7.2 M294.8,56.80 h-7.2 M294.8,17.10 h-7.2" stroke="#262626" stroke-width="0.9" fill="none"/>
<text class="tk" x="294.8" y="275.1" text-anchor="middle" textLength="7.0" lengthAdjust="spacingAndGlyphs">0</text>
<text class="tk" x="353.5" y="275.1" text-anchor="middle" textLength="19.6" lengthAdjust="spacingAndGlyphs">100</text>
<text class="tk" x="412.2" y="275.1" text-anchor="middle" textLength="19.6" lengthAdjust="spacingAndGlyphs">200</text>
<text class="tk" x="471.0" y="275.1" text-anchor="middle" textLength="19.6" lengthAdjust="spacingAndGlyphs">300</text>
<text class="tk" x="285.5" y="261.1" text-anchor="end" textLength="7.0" lengthAdjust="spacingAndGlyphs">0</text>
<text class="tk" x="285.5" y="221.4" text-anchor="end" textLength="7.0" lengthAdjust="spacingAndGlyphs">2</text>
<text class="tk" x="285.5" y="181.7" text-anchor="end" textLength="7.0" lengthAdjust="spacingAndGlyphs">4</text>
<text class="tk" x="285.5" y="142.0" text-anchor="end" textLength="7.0" lengthAdjust="spacingAndGlyphs">6</text>
<text class="tk" x="285.5" y="102.3" text-anchor="end" textLength="7.0" lengthAdjust="spacingAndGlyphs">8</text>
<text class="tk" x="285.5" y="62.6" text-anchor="end" textLength="13.4" lengthAdjust="spacingAndGlyphs">10</text>
<text class="tk" x="285.5" y="22.9" text-anchor="end" textLength="13.4" lengthAdjust="spacingAndGlyphs">12</text>
<text class="tt" x="400.4" y="10.15" stroke="#1a1a1a" stroke-width="0.3" text-anchor="middle" textLength="89.1" lengthAdjust="spacingAndGlyphs">eht-imaging</text>
</g>
<g>
<path d="M548.4,157.9 L549.4,155.6 L550.4,151.3 L551.4,146.5 L552.4,142.3 L553.4,139.5 L554.4,137.2 L555.4,135.2 L556.4,133.5 L557.4,132.4 L558.4,131.6 L559.4,131.1 L560.4,130.9 L561.4,131.1 L562.4,131.8 L563.4,132.7 L564.4,133.9 L565.4,135.2 L566.4,136.7 L567.4,138.8 L568.4,141.4 L569.4,143.6 L570.4,144.9 L571.4,145.2 L572.4,144.9 L573.4,144.3 L574.4,143.6 L575.4,143.0 L576.4,142.4 L577.4,141.6 L578.4,140.4 L579.4,138.4 L580.4,136.0 L581.4,133.3 L582.4,130.4 L583.4,127.5 L584.4,124.5 L585.4,121.6 L586.4,118.6 L587.4,115.7 L588.4,112.7 L589.4,109.8 L590.4,106.9 L591.4,103.7 L592.4,99.9 L593.4,95.6 L594.4,91.3 L595.4,86.9 L596.4,82.6 L597.4,78.5 L598.4,74.6 L599.4,71.1 L600.4,67.9 L601.4,65.2 L602.4,62.9 L603.4,60.7 L604.4,58.9 L605.4,57.4 L606.4,56.8 L607.4,56.8 L608.4,57.6 L609.4,58.8 L610.4,60.4 L611.4,63.5 L612.4,67.0 L613.4,70.5 L614.4,74.1 L615.4,77.3 L616.4,79.7 L617.4,81.6 L618.4,83.6 L619.4,85.6 L620.4,87.6 L621.4,89.5 L622.4,91.2 L623.4,92.8 L624.4,94.2 L625.4,95.5 L626.4,96.7 L627.4,97.9 L628.4,98.9 L629.4,99.9 L630.4,100.9 L631.4,101.9 L632.4,102.8 L633.4,103.8 L634.4,104.6 L635.4,105.3 L636.4,105.6 L637.4,105.0 L638.4,101.4 L639.4,97.2 L640.4,94.9 L641.4,93.3 L642.4,91.6 L643.4,90.0 L644.4,88.1 L645.4,86.2 L646.4,84.2 L647.4,82.2 L648.4,80.3 L649.4,78.4 L650.4,76.5 L651.4,74.8 L652.4,73.3 L653.4,72.0 L654.4,71.1 L655.4,70.5 L656.4,70.1 L657.4,69.6 L658.4,69.1 L659.4,68.6 L660.4,68.3 L661.4,68.3 L662.4,68.6 L663.4,69.3 L664.4,70.1 L665.4,70.9 L666.4,71.4 L667.4,71.8 L668.4,72.1 L669.4,72.4 L670.4,72.6 L671.4,72.2 L672.4,71.4 L673.4,71.1 L674.4,71.9 L675.4,73.6 L676.4,75.4 L677.4,76.9 L678.4,77.9 L679.4,78.8 L680.4,79.7 L681.4,80.4 L682.4,81.1 L683.4,81.7 L684.4,82.3 L685.4,82.9 L686.4,83.5 L687.4,84.1 L688.4,84.6 L689.4,85.2 L690.4,85.7 L691.4,86.2 L692.4,86.7 L693.4,87.1 L694.4,87.5 L695.4,87.8 L696.4,88.1 L697.4,88.4 L698.4,88.7 L699.4,89.2 L700.4,89.7 L701.4,90.2 L702.4,90.8 L703.4,91.8 L704.4,93.3 L705.4,95.2 L706.4,98.3 L707.4,102.9 L708.4,108.0 L709.4,113.6 L710.4,118.4 L711.4,122.6 L712.4,126.7 L713.4,131.0 L714.4,135.2 L715.4,139.4 L716.4,143.0 L717.4,145.9 L718.4,148.7 L719.4,151.6 L720.4,154.4 L721.4,156.8 L722.4,158.8 L723.4,160.1 L724.4,160.9 L725.4,161.3 L726.4,161.4 L727.4,161.4 L728.4,161.1 L729.4,160.9 L730.4,160.7 L731.4,160.9 L732.4,161.2 L733.4,161.5 L734.4,162.0 L735.4,162.6 L736.4,163.4 L737.4,164.2 L738.4,165.2 L739.4,166.2 L740.4,167.2 L741.4,168.2 L742.4,169.3 L743.4,170.4 L744.4,171.7 L745.4,173.1 L746.4,174.2 L747.4,174.9 L748.4,174.9 L749.4,174.3 L750.4,173.3 L751.4,172.3 L752.4,171.3 L753.4,170.3 L754.4,169.3 L755.4,168.3 L756.4,167.3 L757.4,166.3 L758.4,165.4 L759.4,164.5 L759.9,164.3 L759.9,228.2 L759.4,228.6 L758.4,229.6 L757.4,230.5 L756.4,231.5 L755.4,232.5 L754.4,233.5 L753.4,234.4 L752.4,235.1 L751.4,235.5 L750.4,235.4 L749.4,235.1 L748.4,234.8 L747.4,234.5 L746.4,234.2 L745.4,233.8 L744.4,233.5 L743.4,233.1 L742.4,232.8 L741.4,232.4 L740.4,232.2 L739.4,232.2 L738.4,232.5 L737.4,233.1 L736.4,234.1 L735.4,235.0 L734.4,236.0 L733.4,237.0 L732.4,238.0 L731.4,238.9 L730.4,239.8 L729.4,240.2 L728.4,240.0 L727.4,239.2 L726.4,237.9 L725.4,235.7 L724.4,232.9 L723.4,229.8 L722.4,226.4 L721.4,222.9 L720.4,219.4 L719.4,215.9 L718.4,212.4 L717.4,208.4 L716.4,204.4 L715.4,200.3 L714.4,196.2 L713.4,192.1 L712.4,189.7 L711.4,191.0 L710.4,193.0 L709.4,195.0 L708.4,196.9 L707.4,198.4 L706.4,199.7 L705.4,201.0 L704.4,202.3 L703.4,203.8 L702.4,205.3 L701.4,206.6 L700.4,207.4 L699.4,207.6 L698.4,207.5 L697.4,207.1 L696.4,206.3 L695.4,205.3 L694.4,204.0 L693.4,202.6 L692.4,200.3 L691.4,197.5 L690.4,195.2 L689.4,194.1 L688.4,193.7 L687.4,194.0 L686.4,195.2 L685.4,196.9 L684.4,198.6 L683.4,199.6 L682.4,200.0 L681.4,200.0 L680.4,199.2 L679.4,197.9 L678.4,196.4 L677.4,194.8 L676.4,193.0 L675.4,191.3 L674.4,189.7 L673.4,187.7 L672.4,184.9 L671.4,181.5 L670.4,178.0 L669.4,174.6 L668.4,171.2 L667.4,167.8 L666.4,164.4 L665.4,161.3 L664.4,158.5 L663.4,155.9 L662.4,153.9 L661.4,152.6 L660.4,151.7 L659.4,151.3 L658.4,151.2 L657.4,151.5 L656.4,152.5 L655.4,153.9 L654.4,155.4 L653.4,157.0 L652.4,158.8 L651.4,160.7 L650.4,162.6 L649.4,164.5 L648.4,166.4 L647.4,168.2 L646.4,170.1 L645.4,172.0 L644.4,174.1 L643.4,177.5 L642.4,182.3 L641.4,186.3 L640.4,190.3 L639.4,194.3 L638.4,198.0 L637.4,201.5 L636.4,204.7 L635.4,207.3 L634.4,209.0 L633.4,210.2 L632.4,210.8 L631.4,211.0 L630.4,210.6 L629.4,209.9 L628.4,211.4 L627.4,213.7 L626.4,214.2 L625.4,214.4 L624.4,214.5 L623.4,214.5 L622.4,214.4 L621.4,214.3 L620.4,214.2 L619.4,214.0 L618.4,213.7 L617.4,213.4 L616.4,212.9 L615.4,212.4 L614.4,211.7 L613.4,211.0 L612.4,210.3 L611.4,209.5 L610.4,208.6 L609.4,207.7 L608.4,206.7 L607.4,205.7 L606.4,204.6 L605.4,203.4 L604.4,202.0 L603.4,200.6 L602.4,199.1 L601.4,197.5 L600.4,195.8 L599.4,193.8 L598.4,191.8 L597.4,189.7 L596.4,187.3 L595.4,184.6 L594.4,180.1 L593.4,182.1 L592.4,184.7 L591.4,187.6 L590.4,190.3 L589.4,192.5 L588.4,194.5 L587.4,196.4 L586.4,198.4 L585.4,200.7 L584.4,203.4 L583.4,207.0 L582.4,210.9 L581.4,214.4 L580.4,217.6 L579.4,220.5 L578.4,222.8 L577.4,224.3 L576.4,225.3 L575.4,226.0 L574.4,226.2 L573.4,225.9 L572.4,225.1 L571.4,223.8 L570.4,222.1 L569.4,220.1 L568.4,217.7 L567.4,215.9 L566.4,215.1 L565.4,214.7 L564.4,214.3 L563.4,214.0 L562.4,213.7 L561.4,213.4 L560.4,212.9 L559.4,212.2 L558.4,211.6 L557.4,211.2 L556.4,211.7 L555.4,212.6 L554.4,213.9 L553.4,215.7 L552.4,218.3 L551.4,221.8 L550.4,225.6 L549.4,228.7 L548.4,230.5Z" fill="#cce6cc"/>
<path d="M548.4,188.1 L549.4,186.9 L550.4,185.3 L551.4,183.6 L552.4,182.2 L553.4,181.0 L554.4,179.8 L555.4,178.6 L556.4,177.4 L557.4,176.3 L558.4,175.1 L559.4,174.0 L560.4,173.0 L561.4,172.2 L562.4,171.8 L563.4,171.6 L564.4,171.7 L565.4,172.0 L566.4,172.5 L567.4,173.0 L568.4,173.7 L569.4,174.4 L570.4,175.1 L571.4,175.8 L572.4,176.3 L573.4,176.8 L574.4,177.2 L575.4,177.5 L576.4,177.7 L577.4,177.4 L578.4,176.5 L579.4,175.0 L580.4,173.2 L581.4,171.1 L582.4,168.8 L583.4,166.0 L584.4,162.7 L585.4,158.8 L586.4,154.8 L587.4,150.7 L588.4,146.6 L589.4,142.6 L590.4,138.6 L591.4,134.6 L592.4,130.7 L593.4,126.9 L594.4,125.6 L595.4,126.5 L596.4,123.0 L597.4,119.1 L598.4,115.1 L599.4,111.4 L600.4,107.7 L601.4,104.2 L602.4,101.0 L603.4,98.7 L604.4,97.3 L605.4,96.5 L606.4,96.0 L607.4,95.7 L608.4,95.6 L609.4,95.8 L610.4,96.1 L611.4,96.7 L612.4,97.4 L613.4,98.4 L614.4,100.0 L615.4,102.5 L616.4,105.9 L617.4,109.6 L618.4,113.1 L619.4,116.4 L620.4,119.5 L621.4,122.4 L622.4,124.8 L623.4,124.8 L624.4,125.1 L625.4,126.6 L626.4,128.2 L627.4,129.6 L628.4,130.5 L629.4,131.0 L630.4,131.4 L631.4,131.7 L632.4,131.8 L633.4,131.7 L634.4,131.6 L635.4,131.3 L636.4,130.9 L637.4,130.2 L638.4,129.5 L639.4,128.6 L640.4,127.8 L641.4,126.0 L642.4,122.9 L643.4,119.4 L644.4,116.1 L645.4,112.9 L646.4,109.8 L647.4,106.8 L648.4,104.1 L649.4,101.7 L650.4,99.6 L651.4,97.8 L652.4,96.1 L653.4,94.7 L654.4,93.5 L655.4,92.6 L656.4,91.9 L657.4,91.5 L658.4,91.2 L659.4,91.0 L660.4,91.1 L661.4,91.3 L662.4,91.8 L663.4,92.4 L664.4,93.1 L665.4,93.9 L666.4,94.8 L667.4,95.7 L668.4,96.6 L669.4,97.6 L670.4,98.5 L671.4,99.5 L672.4,100.5 L673.4,101.5 L674.4,102.6 L675.4,103.6 L676.4,104.6 L677.4,105.6 L678.4,106.4 L679.4,107.0 L680.4,107.6 L681.4,107.9 L682.4,108.2 L683.4,108.4 L684.4,108.5 L685.4,108.5 L686.4,108.5 L687.4,108.5 L688.4,108.5 L689.4,108.6 L690.4,108.6 L691.4,108.7 L692.4,108.8 L693.4,108.9 L694.4,109.0 L695.4,109.2 L696.4,109.5 L697.4,110.4 L698.4,111.7 L699.4,113.4 L700.4,115.4 L701.4,117.7 L702.4,120.3 L703.4,123.0 L704.4,125.8 L705.4,128.7 L706.4,131.8 L707.4,134.9 L708.4,137.9 L709.4,140.9 L710.4,144.2 L711.4,147.9 L712.4,151.8 L713.4,155.7 L714.4,159.6 L715.4,163.6 L716.4,167.5 L717.4,171.4 L718.4,175.4 L719.4,179.5 L720.4,183.6 L721.4,187.0 L722.4,189.3 L723.4,191.1 L724.4,192.4 L725.4,193.3 L726.4,194.1 L727.4,194.8 L728.4,195.3 L729.4,195.4 L730.4,195.3 L731.4,195.1 L732.4,194.9 L733.4,194.6 L734.4,194.3 L735.4,193.9 L736.4,193.5 L737.4,193.0 L738.4,192.4 L739.4,191.9 L740.4,191.4 L741.4,191.0 L742.4,190.7 L743.4,190.5 L744.4,190.5 L745.4,190.5 L746.4,190.9 L747.4,191.7 L748.4,192.6 L749.4,193.3 L750.4,193.4 L751.4,193.3 L752.4,193.1 L753.4,192.8 L754.4,192.4 L755.4,191.9 L756.4,191.3 L757.4,190.7 L758.4,190.1 L759.4,189.7 L759.9,189.6 L759.9,204.1 L759.4,204.1 L758.4,204.3 L757.4,204.6 L756.4,205.0 L755.4,205.3 L754.4,205.5 L753.4,205.5 L752.4,205.3 L751.4,204.9 L750.4,204.6 L749.4,204.3 L748.4,204.1 L747.4,204.0 L746.4,204.0 L745.4,204.1 L744.4,204.3 L743.4,204.6 L742.4,205.0 L741.4,205.6 L740.4,206.3 L739.4,207.2 L738.4,208.2 L737.4,209.2 L736.4,210.4 L735.4,211.7 L734.4,213.1 L733.4,214.6 L732.4,215.8 L731.4,216.8 L730.4,217.6 L729.4,218.2 L728.4,218.7 L727.4,219.0 L726.4,218.9 L725.4,218.0 L724.4,216.3 L723.4,214.1 L722.4,211.9 L721.4,209.8 L720.4,207.6 L719.4,204.7 L718.4,201.3 L717.4,197.8 L716.4,194.3 L715.4,190.9 L714.4,187.5 L713.4,184.1 L712.4,180.7 L711.4,177.3 L710.4,173.9 L709.4,170.5 L708.4,166.9 L707.4,163.1 L706.4,158.5 L705.4,153.8 L704.4,149.7 L703.4,145.9 L702.4,142.3 L701.4,138.8 L700.4,135.4 L699.4,132.4 L698.4,130.0 L697.4,128.3 L696.4,127.4 L695.4,127.0 L694.4,127.1 L693.4,127.5 L692.4,128.0 L691.4,128.6 L690.4,129.3 L689.4,130.1 L688.4,131.1 L687.4,132.3 L686.4,133.4 L685.4,134.6 L684.4,135.6 L683.4,136.6 L682.4,137.5 L681.4,138.3 L680.4,139.1 L679.4,139.7 L678.4,140.0 L677.4,140.0 L676.4,139.9 L675.4,139.8 L674.4,139.4 L673.4,138.8 L672.4,137.9 L671.4,136.7 L670.4,135.2 L669.4,133.5 L668.4,131.9 L667.4,130.4 L666.4,129.0 L665.4,127.6 L664.4,126.3 L663.4,125.0 L662.4,124.0 L661.4,123.4 L660.4,123.0 L659.4,122.7 L658.4,122.6 L657.4,122.5 L656.4,122.5 L655.4,122.7 L654.4,123.1 L653.4,123.8 L652.4,124.7 L651.4,125.8 L650.4,127.0 L649.4,128.3 L648.4,129.7 L647.4,131.3 L646.4,133.2 L645.4,135.4 L644.4,138.0 L643.4,140.7 L642.4,143.4 L641.4,146.0 L640.4,148.5 L639.4,151.0 L638.4,153.3 L637.4,155.5 L636.4,157.5 L635.4,158.9 L634.4,159.7 L633.4,160.2 L632.4,160.3 L631.4,160.1 L630.4,159.7 L629.4,159.1 L628.4,158.2 L627.4,157.3 L626.4,156.2 L625.4,155.0 L624.4,153.7 L623.4,152.3 L622.4,150.6 L621.4,148.5 L620.4,146.0 L619.4,143.4 L618.4,140.7 L617.4,138.0 L616.4,135.4 L615.4,132.9 L614.4,130.4 L613.4,127.9 L612.4,125.5 L611.4,123.4 L610.4,121.7 L609.4,120.4 L608.4,119.5 L607.4,119.2 L606.4,119.3 L605.4,119.8 L604.4,120.5 L603.4,121.6 L602.4,123.1 L601.4,124.8 L600.4,126.8 L599.4,129.0 L598.4,131.4 L597.4,134.2 L596.4,137.6 L595.4,141.5 L594.4,145.6 L593.4,149.8 L592.4,153.8 L591.4,157.6 L590.4,161.2 L589.4,164.9 L588.4,168.7 L587.4,173.4 L586.4,177.9 L585.4,181.4 L584.4,184.6 L583.4,187.5 L582.4,190.2 L581.4,192.7 L580.4,194.8 L579.4,196.5 L578.4,197.8 L577.4,198.5 L576.4,198.7 L575.4,198.2 L574.4,197.5 L573.4,196.6 L572.4,195.8 L571.4,194.8 L570.4,193.8 L569.4,192.8 L568.4,191.8 L567.4,191.0 L566.4,190.5 L565.4,190.3 L564.4,190.3 L563.4,190.4 L562.4,190.6 L561.4,191.0 L560.4,191.6 L559.4,192.5 L558.4,193.5 L557.4,194.5 L556.4,195.5 L555.4,196.6 L554.4,197.6 L553.4,198.6 L552.4,199.6 L551.4,200.6 L550.4,201.6 L549.4,202.5 L548.4,203.3Z" fill="#7abf7a"/>
<path d="M548.4,201.9 L549.4,201.0 L550.4,200.0 L551.4,198.9 L552.4,197.8 L553.4,196.5 L554.4,195.3 L555.4,194.1 L556.4,192.9 L557.4,191.9 L558.4,190.9 L559.4,190.1 L560.4,189.5 L561.4,189.1 L562.4,188.8 L563.4,188.7 L564.4,188.6 L565.4,188.8 L566.4,189.0 L567.4,189.3 L568.4,189.7 L569.4,190.1 L570.4,190.6 L571.4,191.0 L572.4,191.4 L573.4,191.7 L574.4,191.9 L575.4,191.9 L576.4,191.7 L577.4,191.3 L578.4,190.6 L579.4,189.6 L580.4,188.2 L581.4,186.6 L582.4,184.7 L583.4,182.4 L584.4,179.9 L585.4,177.1 L586.4,173.8 L587.4,169.9 L588.4,165.3 L589.4,160.3 L590.4,155.5 L591.4,151.6 L592.4,148.3 L593.4,145.3 L594.4,142.1 L595.4,138.5 L596.4,134.5 L597.4,130.4 L598.4,126.5 L599.4,123.1 L600.4,120.3 L601.4,117.8 L602.4,115.7 L603.4,113.9 L604.4,112.4 L605.4,111.2 L606.4,110.4 L607.4,110.1 L608.4,110.4 L609.4,111.1 L610.4,112.2 L611.4,113.7 L612.4,115.5 L613.4,117.6 L614.4,119.9 L615.4,122.4 L616.4,125.1 L617.4,127.8 L618.4,130.6 L619.4,133.4 L620.4,136.2 L621.4,138.9 L622.4,141.4 L623.4,143.8 L624.4,145.9 L625.4,147.8 L626.4,149.5 L627.4,150.8 L628.4,151.9 L629.4,152.7 L630.4,153.3 L631.4,153.5 L632.4,153.4 L633.4,153.0 L634.4,152.4 L635.4,151.4 L636.4,150.1 L637.4,148.6 L638.4,146.8 L639.4,144.8 L640.4,142.5 L641.4,140.0 L642.4,137.5 L643.4,135.0 L644.4,132.7 L645.4,130.8 L646.4,129.0 L647.4,127.4 L648.4,125.9 L649.4,124.6 L650.4,123.2 L651.4,122.1 L652.4,121.1 L653.4,120.3 L654.4,119.7 L655.4,119.4 L656.4,119.3 L657.4,119.3 L658.4,119.5 L659.4,119.8 L660.4,120.3 L661.4,120.9 L662.4,121.5 L663.4,122.3 L664.4,123.1 L665.4,123.9 L666.4,124.7 L667.4,125.6 L668.4,126.4 L669.4,127.2 L670.4,127.9 L671.4,128.6 L672.4,129.2 L673.4,129.7 L674.4,130.0 L675.4,130.3 L676.4,130.5 L677.4,130.6 L678.4,130.6 L679.4,130.5 L680.4,130.3 L681.4,130.1 L682.4,129.8 L683.4,129.5 L684.4,129.1 L685.4,128.7 L686.4,128.2 L687.4,127.7 L688.4,127.1 L689.4,126.6 L690.4,126.0 L691.4,125.4 L692.4,125.0 L693.4,124.6 L694.4,124.5 L695.4,124.6 L696.4,125.0 L697.4,125.8 L698.4,127.0 L699.4,128.5 L700.4,130.4 L701.4,132.8 L702.4,135.5 L703.4,138.5 L704.4,141.8 L705.4,145.4 L706.4,149.1 L707.4,153.1 L708.4,157.1 L709.4,161.2 L710.4,165.3 L711.4,169.5 L712.4,173.6 L713.4,177.9 L714.4,182.1 L715.4,186.4 L716.4,190.6 L717.4,194.7 L718.4,198.6 L719.4,202.2 L720.4,205.4 L721.4,208.2 L722.4,210.7 L723.4,212.7 L724.4,214.4 L725.4,215.6 L726.4,216.5 L727.4,217.1 L728.4,217.3 L729.4,217.1 L730.4,216.6 L731.4,215.7 L732.4,214.7 L733.4,213.4 L734.4,212.1 L735.4,210.7 L736.4,209.3 L737.4,207.9 L738.4,206.7 L739.4,205.5 L740.4,204.5 L741.4,203.6 L742.4,202.9 L743.4,202.2 L744.4,201.8 L745.4,201.5 L746.4,201.4 L747.4,201.4 L748.4,201.5 L749.4,201.8 L750.4,202.1 L751.4,202.4 L752.4,202.7 L753.4,203.1 L754.4,203.3 L755.4,203.5 L756.4,203.6 L757.4,203.5 L758.4,203.3 L759.4,202.9 L759.9,202.6" fill="none" stroke="#008000" stroke-width="1.45" stroke-linejoin="round"/>
<path d="M548.4,221.4 L549.4,221.0 L550.4,220.6 L551.4,220.1 L552.4,219.7 L553.4,219.2 L554.4,218.6 L555.4,218.1 L556.4,217.6 L557.4,217.0 L558.4,216.5 L559.4,216.0 L560.4,215.4 L561.4,214.9 L562.4,214.5 L563.4,214.0 L564.4,213.6 L565.4,213.1 L566.4,212.6 L567.4,212.1 L568.4,211.6 L569.4,211.0 L570.4,210.4 L571.4,209.7 L572.4,209.0 L573.4,208.2 L574.4,207.2 L575.4,206.2 L576.4,205.1 L577.4,203.9 L578.4,202.6 L579.4,201.3 L580.4,199.9 L581.4,198.5 L582.4,197.1 L583.4,195.6 L584.4,194.1 L585.4,192.5 L586.4,190.8 L587.4,189.2 L588.4,187.4 L589.4,185.7 L590.4,183.9 L591.4,182.2 L592.4,180.5 L593.4,178.8 L594.4,177.1 L595.4,175.5 L596.4,173.9 L597.4,172.3 L598.4,170.8 L599.4,169.4 L600.4,168.0 L601.4,166.6 L602.4,165.4 L603.4,164.3 L604.4,163.3 L605.4,162.5 L606.4,161.8 L607.4,161.3 L608.4,161.0 L609.4,160.7 L610.4,160.5 L611.4,160.4 L612.4,160.4 L613.4,160.4 L614.4,160.5 L615.4,160.6 L616.4,160.8 L617.4,161.0 L618.4,161.3 L619.4,161.6 L620.4,161.9 L621.4,162.3 L622.4,162.6 L623.4,163.0 L624.4,163.4 L625.4,163.8 L626.4,164.2 L627.4,164.6 L628.4,165.0 L629.4,165.4 L630.4,165.7 L631.4,166.0 L632.4,166.3 L633.4,166.6 L634.4,166.9 L635.4,167.1 L636.4,167.4 L637.4,167.6 L638.4,167.8 L639.4,168.0 L640.4,168.2 L641.4,168.4 L642.4,168.6 L643.4,168.9 L644.4,169.1 L645.4,169.3 L646.4,169.6 L647.4,169.8 L648.4,170.1 L649.4,170.4 L650.4,170.8 L651.4,171.2 L652.4,171.6 L653.4,172.0 L654.4,172.5 L655.4,173.1 L656.4,173.6 L657.4,174.2 L658.4,174.8 L659.4,175.5 L660.4,176.0 L661.4,176.6 L662.4,177.2 L663.4,177.7 L664.4,178.1 L665.4,178.5 L666.4,178.8 L667.4,179.1 L668.4,179.3 L669.4,179.5 L670.4,179.6 L671.4,179.7 L672.4,179.8 L673.4,179.8 L674.4,179.8 L675.4,179.8 L676.4,179.8 L677.4,179.8 L678.4,179.8 L679.4,179.7 L680.4,179.7 L681.4,179.7 L682.4,179.7 L683.4,179.7 L684.4,179.7 L685.4,179.8 L686.4,179.9 L687.4,180.0 L688.4,180.2 L689.4,180.5 L690.4,180.9 L691.4,181.3 L692.4,181.8 L693.4,182.4 L694.4,183.0 L695.4,183.8 L696.4,184.7 L697.4,185.7 L698.4,186.7 L699.4,187.9 L700.4,189.0 L701.4,190.3 L702.4,191.5 L703.4,192.8 L704.4,194.1 L705.4,195.5 L706.4,196.9 L707.4,198.3 L708.4,199.7 L709.4,201.2 L710.4,202.7 L711.4,204.1 L712.4,205.5 L713.4,207.0 L714.4,208.3 L715.4,209.7 L716.4,211.0 L717.4,212.2 L718.4,213.4 L719.4,214.5 L720.4,215.6 L721.4,216.5 L722.4,217.4 L723.4,218.3 L724.4,219.1 L725.4,219.8 L726.4,220.4 L727.4,221.0 L728.4,221.6 L729.4,222.1 L730.4,222.6 L731.4,223.0 L732.4,223.3 L733.4,223.6 L734.4,223.9 L735.4,224.2 L736.4,224.4 L737.4,224.5 L738.4,224.7 L739.4,224.8 L740.4,224.9 L741.4,225.0 L742.4,225.0 L743.4,225.1 L744.4,225.1 L745.4,225.1 L746.4,225.1 L747.4,225.1 L748.4,225.1 L749.4,225.1 L750.4,225.0 L751.4,224.9 L752.4,224.8 L753.4,224.7 L754.4,224.5 L755.4,224.3 L756.4,224.0 L757.4,223.8 L758.4,223.4 L759.4,223.1 L759.9,222.9" fill="none" stroke="#008000" stroke-width="1.45" stroke-dasharray="5.5 2.3" stroke-linejoin="round"/>
<path d="M646.95,17.95 V255.3" stroke="#262626" stroke-width="1.35" stroke-dasharray="1.1 1.9" fill="none"/>
<rect x="548.4" y="17.1" width="211.5" height="238.2" fill="none" stroke="#262626" stroke-width="0.9"/>
<path d="M548.40,255.3 v7.2 M607.15,255.3 v7.2 M665.90,255.3 v7.2 M724.65,255.3 v7.2 M548.4,255.30 h-7.2 M548.4,215.60 h-7.2 M548.4,175.90 h-7.2 M548.4,136.20 h-7.2 M548.4,96.50 h-7.2 M548.4,56.80 h-7.2 M548.4,17.10 h-7.2" stroke="#262626" stroke-width="0.9" fill="none"/>
<text class="tk" x="548.4" y="275.1" text-anchor="middle" textLength="7.0" lengthAdjust="spacingAndGlyphs">0</text>
<text class="tk" x="607.1" y="275.1" text-anchor="middle" textLength="19.6" lengthAdjust="spacingAndGlyphs">100</text>
<text class="tk" x="665.9" y="275.1" text-anchor="middle" textLength="19.6" lengthAdjust="spacingAndGlyphs">200</text>
<text class="tk" x="724.6" y="275.1" text-anchor="middle" textLength="19.6" lengthAdjust="spacingAndGlyphs">300</text>
<text class="tk" x="539.1" y="261.1" text-anchor="end" textLength="7.0" lengthAdjust="spacingAndGlyphs">0</text>
<text class="tk" x="539.1" y="221.4" text-anchor="end" textLength="7.0" lengthAdjust="spacingAndGlyphs">2</text>
<text class="tk" x="539.1" y="181.7" text-anchor="end" textLength="7.0" lengthAdjust="spacingAndGlyphs">4</text>
<text class="tk" x="539.1" y="142.0" text-anchor="end" textLength="7.0" lengthAdjust="spacingAndGlyphs">6</text>
<text class="tk" x="539.1" y="102.3" text-anchor="end" textLength="7.0" lengthAdjust="spacingAndGlyphs">8</text>
<text class="tk" x="539.1" y="62.6" text-anchor="end" textLength="13.4" lengthAdjust="spacingAndGlyphs">10</text>
<text class="tk" x="539.1" y="22.9" text-anchor="end" textLength="13.4" lengthAdjust="spacingAndGlyphs">12</text>
<text class="tt" x="654.0" y="10.15" stroke="#1a1a1a" stroke-width="0.3" text-anchor="middle" textLength="40.5" lengthAdjust="spacingAndGlyphs">SMILI</text>
</g>
<text transform="translate(12.8,228.4) rotate(-90)" style="font-family:'Liberation Serif',serif;font-size:15.4px;fill:#1a1a1a" textLength="61.6" lengthAdjust="spacingAndGlyphs">Brightness</text>
<text transform="translate(12.8,162.2) rotate(-90)" style="font-family:'Liberation Serif',serif;font-size:15.4px;fill:#1a1a1a" textLength="71.4" lengthAdjust="spacingAndGlyphs">Temperature</text>
<text transform="translate(12.8,87.9) rotate(-90)" style="font-family:'Liberation Serif',serif;font-size:15.4px;fill:#1a1a1a" textLength="43" lengthAdjust="spacingAndGlyphs">(10<tspan dy="-5.2" font-size="11.4px">9</tspan><tspan dy="5.2"> K)</tspan></text>
<text x="387.0" y="293.3" style="font-family:'Liberation Serif',serif;fill:#1a1a1a;font-size:16px;font-style:italic" stroke="#1a1a1a" stroke-width="0.35" textLength="7.6" lengthAdjust="spacingAndGlyphs">θ</text>
<text x="397.6" y="292.3" style="font-family:'Liberation Serif',serif;fill:#1a1a1a;font-size:17.4px" textLength="16.2" lengthAdjust="spacingAndGlyphs">(°)</text>
</svg></body></html>
